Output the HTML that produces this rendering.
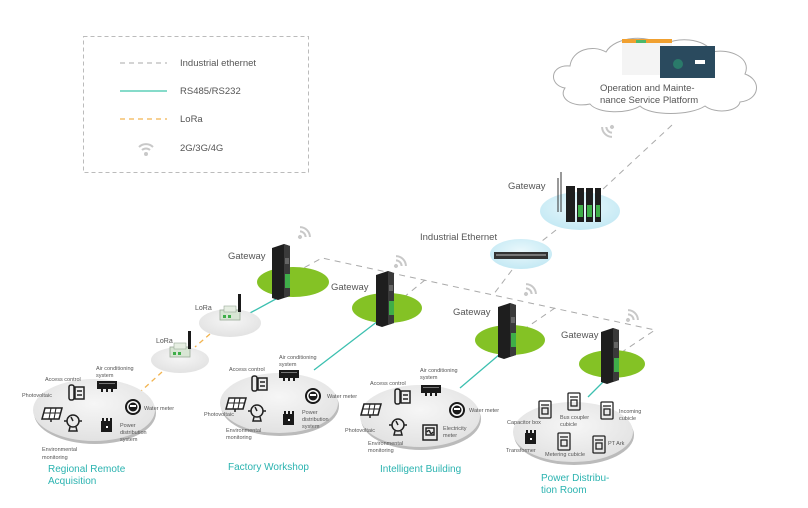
<!DOCTYPE html>
<html><head><meta charset="utf-8"><style>
html,body{margin:0;padding:0;background:#fff;}
svg{display:block;font-family:"Liberation Sans",sans-serif;}
.s{font-size:5.5px;fill:#555;}
.g{font-size:9.5px;fill:#555;}
.t{font-size:10px;fill:#2bb3b0;}
</style></head><body>
<svg width="808" height="508" viewBox="0 0 808 508" xmlns="http://www.w3.org/2000/svg">
<defs>
<radialGradient id="gr" cx="50%" cy="40%" r="60%"><stop offset="0" stop-color="#f6f6f6"/><stop offset="1" stop-color="#e2e2e2"/></radialGradient>
<radialGradient id="bl" cx="50%" cy="40%" r="60%"><stop offset="0" stop-color="#eaf8fc"/><stop offset="1" stop-color="#c4e9f4"/></radialGradient>
<g id="wifi" fill="none" stroke="#c8c8c8" stroke-width="2"><circle cx="0" cy="0" r="2" fill="#c8c8c8" stroke="none"/><path d="M4,-4 A6,6 0 0 1 4,4"/><path d="M7,-7 A10,10 0 0 1 7,7"/></g>
<g id="gw"><polygon points="0,4 12,0 18,2 18,52 6,56 0,54" fill="#1e1e1e"/><polygon points="12,0 18,2 18,52 12,54" fill="#3a3a3a"/><rect x="13" y="14" width="4" height="6" fill="#666"/><rect x="13" y="30" width="5" height="14" fill="#3fae49"/></g>
<g id="ac"><rect x="0" y="0" width="20" height="8" fill="#1a1a1a"/><rect x="2" y="2" width="16" height="1" fill="#777"/><rect x="4" y="8" width="2" height="3" fill="#1a1a1a"/><rect x="9" y="8" width="2" height="3" fill="#1a1a1a"/><rect x="14" y="8" width="2" height="3" fill="#1a1a1a"/></g>
<g id="door" fill="none" stroke="#222" stroke-width="1.5"><rect x="0" y="0" width="5" height="15" rx="2"/><rect x="6" y="2" width="9" height="12"/><line x1="8" y1="6" x2="13" y2="6"/><line x1="8" y1="10" x2="13" y2="10"/></g>
<g id="solar"><polygon points="3,0 20,0 17,11 0,11" fill="#fff" stroke="#222" stroke-width="1.5"/><line x1="2" y1="5" x2="19" y2="5" stroke="#222"/><line x1="9" y1="0" x2="7" y2="11" stroke="#222"/><line x1="14" y1="0" x2="12" y2="11" stroke="#222"/><line x1="9" y1="11" x2="9" y2="14" stroke="#222" stroke-width="1.5"/></g>
<g id="gauge" fill="none" stroke="#222" stroke-width="1.5"><circle cx="0" cy="0" r="6"/><line x1="-9" y1="0" x2="-6" y2="0"/><line x1="6" y1="0" x2="9" y2="0"/><path d="M-3,6 L-4,10 L4,10 L3,6"/><line x1="0" y1="0" x2="-2" y2="-4"/></g>
<g id="cab"><rect x="0" y="3" width="11" height="11" fill="#1a1a1a"/><rect x="1" y="0" width="2" height="4" fill="#1a1a1a"/><rect x="5" y="0" width="2" height="4" fill="#1a1a1a"/><rect x="9" y="0" width="2" height="4" fill="#1a1a1a"/><rect x="5" y="8" width="2" height="2" fill="#fff"/></g>
<g id="wm"><circle cx="0" cy="0" r="8" fill="#1a1a1a"/><circle cx="0" cy="0" r="6" fill="#fff"/><circle cx="0" cy="0" r="4.5" fill="#1a1a1a"/><rect x="-3" y="-2" width="6" height="2" fill="#fff"/></g>
<g id="em" fill="none" stroke="#222" stroke-width="1.5"><rect x="0" y="0" width="14" height="15"/><rect x="3" y="3" width="8" height="7"/><path d="M4,7 q2,-3 3,0 t3,0"/></g>
<g id="cub" fill="none" stroke="#222" stroke-width="1.3"><rect x="0" y="0" width="12" height="17" rx="1"/><line x1="2" y1="4" x2="10" y2="4"/><rect x="3" y="7" width="6" height="6"/></g>
<g id="lora"><rect x="0" y="4" width="20" height="10" fill="#d8e6d4" stroke="#9aaa98" stroke-width="0.8"/><rect x="4" y="0" width="12" height="6" fill="#e6eee2" stroke="#9aaa98" stroke-width="0.6"/><rect x="3" y="9" width="3" height="3" fill="#3fae49"/><rect x="8" y="9" width="3" height="3" fill="#3fae49"/><rect x="18" y="-12" width="3" height="18" fill="#1a1a1a"/></g>
</defs>

<rect x="83.5" y="36.5" width="225" height="136" fill="none" stroke="#bbb" stroke-dasharray="4,3"/>
<line x1="120" y1="63" x2="167" y2="63" stroke="#aaa" stroke-dasharray="5,4"/>
<text x="180" y="66" class="g">Industrial ethernet</text>
<line x1="120" y1="91" x2="167" y2="91" stroke="#5fcfb8" stroke-width="1.5"/>
<text x="180" y="94" class="g">RS485/RS232</text>
<line x1="120" y1="119" x2="167" y2="119" stroke="#f2b450" stroke-dasharray="5,4" stroke-width="1.2"/>
<text x="180" y="122" class="g">LoRa</text>
<g transform="translate(146,154) rotate(-90)"><use href="#wifi"/></g>
<text x="180" y="151" class="g">2G/3G/4G</text>

<path d="M565,88 C548,85 550,64 570,66 C572,50 592,44 606,52 C615,36 650,34 662,46 C675,36 705,38 712,52 C730,48 752,58 745,74 C762,80 760,100 740,102 C738,112 715,114 705,106 C690,116 650,116 640,106 C628,114 598,114 590,104 C572,108 558,98 565,88 Z" fill="#fff" stroke="#aaa" stroke-width="1"/>
<rect x="622" y="39" width="50" height="36" fill="#f4f4f4"/>
<rect x="622" y="39" width="50" height="4" fill="#f0a030"/>
<rect x="636" y="40" width="10" height="3" fill="#4cb86b"/>
<rect x="660" y="56" width="2" height="12" fill="#e07a20"/>
<rect x="660" y="46" width="55" height="32" fill="#2a4a5e"/>
<circle cx="678" cy="64" r="5" fill="#2a7a6a"/>
<rect x="695" y="60" width="10" height="4" fill="#fff"/>
<text x="600" y="91" class="g">Operation and Mainte-</text>
<text x="600" y="103" class="g">nance Service Platform</text>
<g transform="translate(612,127) rotate(135)"><use href="#wifi"/></g>

<g stroke="#aaa" stroke-dasharray="6,5" fill="none" stroke-width="1">
<line x1="672" y1="125" x2="602" y2="190"/>
<line x1="556" y1="230" x2="542" y2="241"/>
<line x1="512" y1="270" x2="493" y2="295"/>
<polyline points="285,278 322,258 655,330 622,352"/>
<line x1="425" y1="280" x2="398" y2="302"/>
<line x1="555" y1="308" x2="520" y2="332"/>
</g>

<g stroke="#3cc0b0" stroke-width="1.3" fill="none">
<line x1="285" y1="294" x2="250" y2="313"/>
<line x1="378" y1="321" x2="314" y2="370"/>
<line x1="500" y1="354" x2="460" y2="388"/>
<line x1="608" y1="377" x2="588" y2="397"/>
</g>
<g stroke="#f2b450" stroke-width="1.3" stroke-dasharray="5,4">
<line x1="210" y1="334" x2="195" y2="347"/>
<line x1="162" y1="372" x2="140" y2="392"/>
</g>

<ellipse cx="580" cy="211" rx="40" ry="19" fill="url(#bl)"/>
<line x1="558" y1="212" x2="558" y2="178" stroke="#333"/><line x1="561" y1="212" x2="561" y2="172" stroke="#333"/>
<rect x="566" y="186" width="9" height="36" fill="#1e1e1e"/>
<rect x="577" y="188" width="7" height="34" fill="#1e1e1e"/><rect x="578" y="205" width="5" height="12" fill="#3fae49"/>
<rect x="586" y="188" width="7" height="34" fill="#1e1e1e"/><rect x="587" y="205" width="5" height="12" fill="#3fae49"/>
<rect x="595" y="188" width="6" height="34" fill="#1e1e1e"/><rect x="596" y="205" width="4" height="12" fill="#3fae49"/>
<text x="508" y="189" class="g">Gateway</text>

<ellipse cx="521" cy="254" rx="31" ry="15" fill="url(#bl)"/>
<rect x="494" y="252" width="54" height="7" fill="#333"/>
<rect x="496" y="254" width="50" height="2" fill="#777"/>
<text x="420" y="240" class="g">Industrial Ethernet</text>

<ellipse cx="293" cy="282" rx="36" ry="15" fill="#84c225"/>
<use href="#gw" x="272" y="244"/>
<text x="228" y="259" class="g">Gateway</text>
<g transform="translate(300,237) rotate(-45)"><use href="#wifi"/></g>

<ellipse cx="387" cy="308" rx="35" ry="15" fill="#84c225"/>
<use href="#gw" x="376" y="271"/>
<text x="331" y="290" class="g">Gateway</text>
<g transform="translate(396,266) rotate(-45)"><use href="#wifi"/></g>

<ellipse cx="510" cy="340" rx="35" ry="15" fill="#84c225"/>
<use href="#gw" x="498" y="303"/>
<text x="453" y="315" class="g">Gateway</text>
<g transform="translate(526,294) rotate(-45)"><use href="#wifi"/></g>

<ellipse cx="612" cy="364" rx="33" ry="14" fill="#84c225"/>
<use href="#gw" x="601" y="328"/>
<text x="561" y="338" class="g">Gateway</text>
<g transform="translate(628,320) rotate(-45)"><use href="#wifi"/></g>

<ellipse cx="230" cy="323" rx="31" ry="14" fill="url(#gr)"/>
<use href="#lora" x="220" y="306"/>
<text x="195" y="310" class="s" style="font-size:7px">LoRa</text>
<ellipse cx="180" cy="360" rx="29" ry="13" fill="url(#gr)"/>
<use href="#lora" x="170" y="343"/>
<text x="156" y="343" class="s" style="font-size:7px">LoRa</text>

<ellipse cx="95" cy="413" rx="61" ry="31" fill="#bbb"/>
<ellipse cx="94" cy="410" rx="61" ry="31" fill="url(#gr)"/>
<use href="#door" x="69" y="385"/>
<use href="#ac" x="97" y="381"/>
<use href="#wm" x="133" y="407"/>
<use href="#solar" x="42" y="408"/>
<use href="#gauge" x="73" y="421"/>
<use href="#cab" x="101" y="418"/>
<text x="96" y="370" class="s">Air conditioning</text><text x="96" y="377" class="s">system</text>
<text x="45" y="381" class="s">Access control</text>
<text x="22" y="397" class="s">Photovoltaic</text>
<text x="144" y="410" class="s">Water meter</text>
<text x="120" y="427" class="s">Power</text><text x="120" y="434" class="s">distribution</text><text x="120" y="441" class="s">system</text>
<text x="42" y="451" class="s">Environmental</text><text x="42" y="459" class="s">monitoring</text>
<text x="48" y="472" class="t">Regional Remote</text>
<text x="48" y="484" class="t">Acquisition</text>

<ellipse cx="280" cy="406" rx="59" ry="30" fill="#bbb"/>
<ellipse cx="279" cy="403" rx="59" ry="30" fill="url(#gr)"/>
<use href="#door" x="252" y="376"/>
<use href="#ac" x="279" y="370"/>
<use href="#wm" x="313" y="396"/>
<use href="#solar" x="226" y="398"/>
<use href="#gauge" x="257" y="411"/>
<use href="#cab" x="283" y="411"/>
<text x="279" y="359" class="s">Air conditioning</text><text x="279" y="366" class="s">system</text>
<text x="229" y="371" class="s">Access control</text>
<text x="204" y="416" class="s">Photovoltaic</text>
<text x="327" y="398" class="s">Water meter</text>
<text x="302" y="414" class="s">Power</text><text x="302" y="421" class="s">distribution</text><text x="302" y="428" class="s">system</text>
<text x="226" y="432" class="s">Environmental</text><text x="226" y="439" class="s">monitoring</text>
<text x="228" y="470" class="t">Factory Workshop</text>

<ellipse cx="421" cy="419" rx="60" ry="31" fill="#bbb"/>
<ellipse cx="420" cy="416" rx="60" ry="31" fill="url(#gr)"/>
<use href="#door" x="395" y="389"/>
<use href="#ac" x="421" y="385"/>
<use href="#wm" x="457" y="410"/>
<use href="#em" x="423" y="425"/>
<use href="#solar" x="361" y="404"/>
<use href="#gauge" x="398" y="425"/>
<text x="420" y="372" class="s">Air conditioning</text><text x="420" y="379" class="s">system</text>
<text x="370" y="385" class="s">Access control</text>
<text x="345" y="432" class="s">Photovoltaic</text>
<text x="469" y="412" class="s">Water meter</text>
<text x="443" y="430" class="s">Electricity</text><text x="443" y="437" class="s">meter</text>
<text x="368" y="445" class="s">Environmental</text><text x="368" y="452" class="s">monitoring</text>
<text x="380" y="472" class="t">Intelligent Building</text>

<ellipse cx="574" cy="435" rx="60" ry="30" fill="#bbb"/>
<ellipse cx="573" cy="432" rx="60" ry="30" fill="url(#gr)"/>
<use href="#cub" x="539" y="401"/>
<use href="#cub" x="568" y="393"/>
<use href="#cub" x="601" y="402"/>
<use href="#cab" x="525" y="430"/>
<use href="#cub" x="558" y="433"/>
<use href="#cub" x="593" y="436"/>
<text x="507" y="424" class="s">Capacitor box</text>
<text x="560" y="419" class="s">Bus coupler</text><text x="560" y="426" class="s">cubicle</text>
<text x="619" y="413" class="s">Incoming</text><text x="619" y="420" class="s">cubicle</text>
<text x="506" y="452" class="s">Transformer</text>
<text x="545" y="456" class="s">Metering cubicle</text>
<text x="608" y="445" class="s">PT Ark</text>
<text x="541" y="481" class="t">Power Distribu-</text>
<text x="541" y="493" class="t">tion Room</text>
</svg>
</body></html>
